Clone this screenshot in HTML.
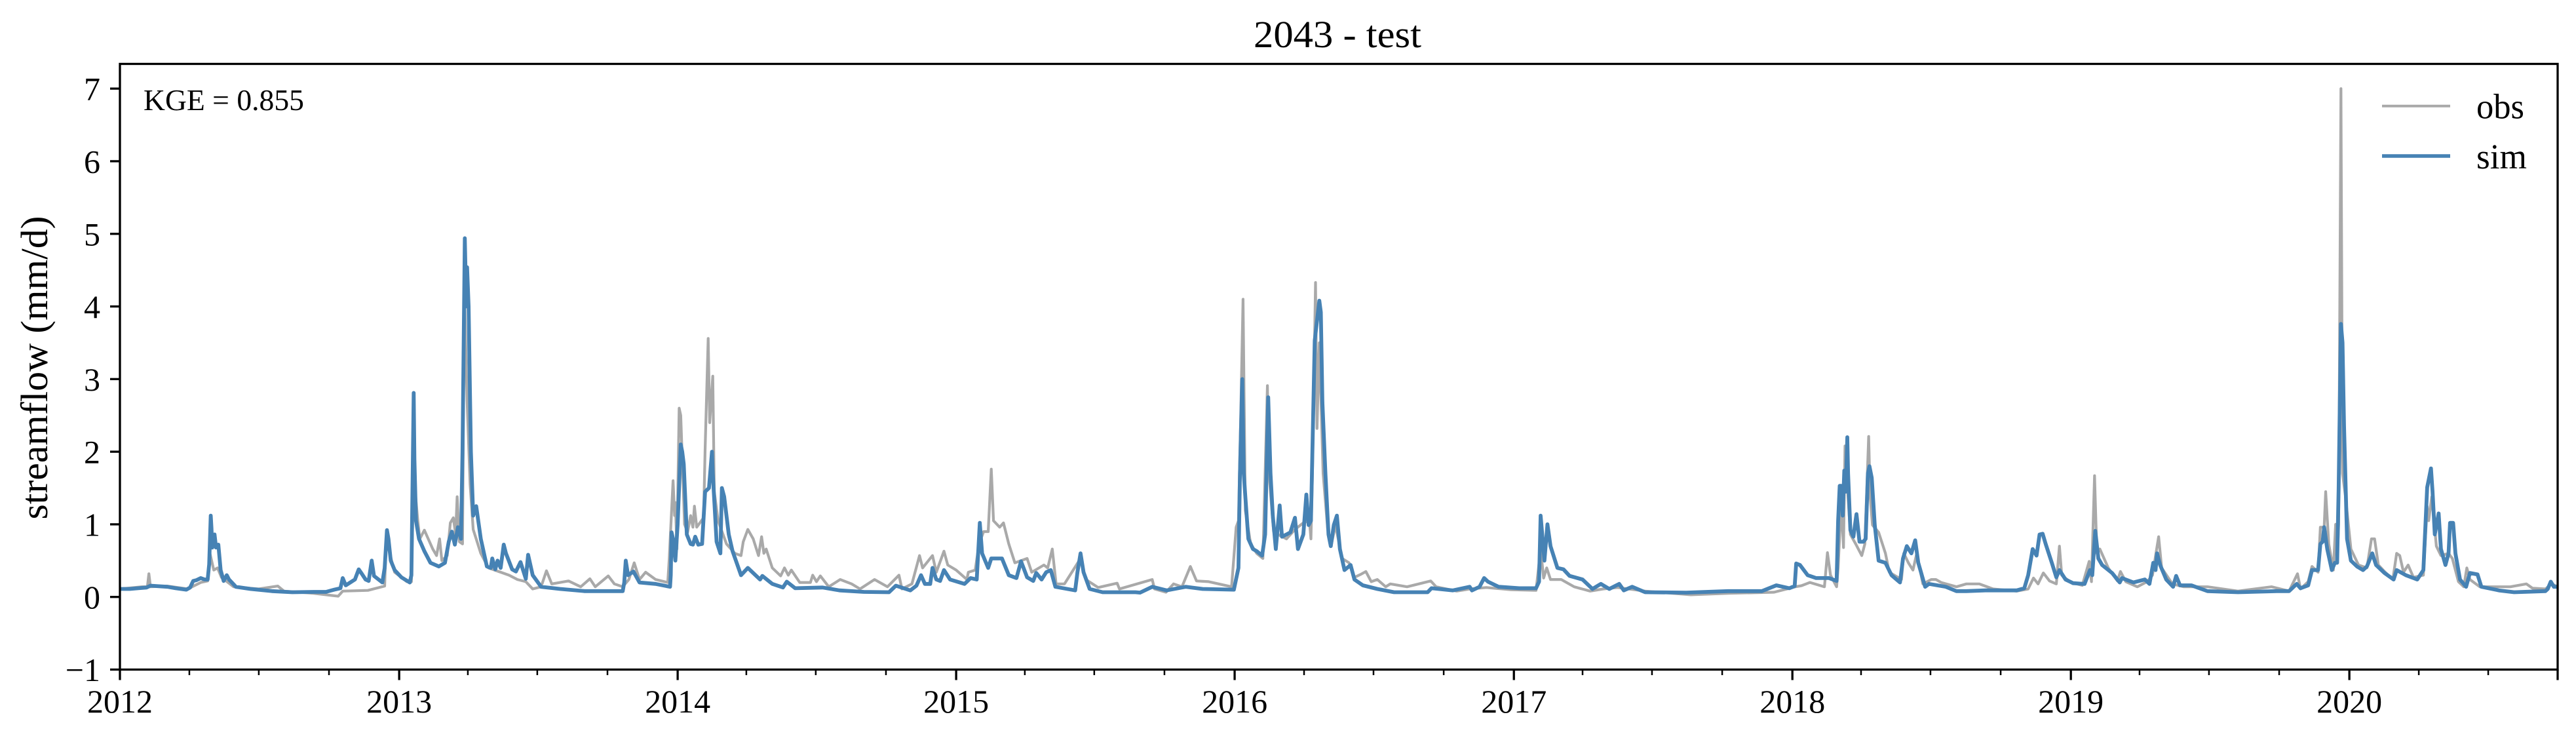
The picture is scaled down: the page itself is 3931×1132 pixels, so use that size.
<!DOCTYPE html>
<html lang="en">
<head>
<meta charset="utf-8">
<title>2043 - test</title>
<style>
html,body{margin:0;padding:0;background:#fff;width:3931px;height:1132px;overflow:hidden}
svg{display:block}
text{font-family:"Liberation Serif","DejaVu Serif",serif;fill:#000}
</style>
</head>
<body>
<svg id="chart" xmlns="http://www.w3.org/2000/svg" width="3931" height="1132" viewBox="0 0 3931 1132">
  <rect x="0" y="0" width="3931" height="1132" fill="#ffffff"/>
  <defs><clipPath id="plot-clip"><rect x="183" y="97.5" width="3720" height="924"/></clipPath></defs>
  <g id="series" clip-path="url(#plot-clip)"></g>
  <g id="ticks"></g>
  <rect x="183" y="97.5" width="3720" height="924" fill="none" stroke="#000" stroke-width="3.3"/>
  <text x="2041" y="72" font-size="58" text-anchor="middle" textLength="256" lengthAdjust="spacingAndGlyphs">2043 - test</text>
  <text transform="translate(72 561) rotate(-90)" font-size="58" text-anchor="middle" textLength="463" lengthAdjust="spacingAndGlyphs">streamflow (mm/d)</text>
  <text x="219" y="168" font-size="46" textLength="245" lengthAdjust="spacingAndGlyphs">KGE = 0.855</text>
  <g>
    <line x1="3635" x2="3739" y1="161.7" y2="161.7" stroke="#a9a9a9" stroke-width="4"/>
    <text x="3779" y="180.5" font-size="54" textLength="73" lengthAdjust="spacingAndGlyphs">obs</text>
    <line x1="3635" x2="3739" y1="238" y2="238" stroke="#4682b4" stroke-width="5.6"/>
    <text x="3779" y="257" font-size="54" textLength="77" lengthAdjust="spacingAndGlyphs">sim</text>
  </g>
</svg>
<script>
const yTickValues = [-1, 0, 1, 2, 3, 4, 5, 6, 7];
const yearLabels = [2012, 2013, 2014, 2015, 2016, 2017, 2018, 2019, 2020];
const minorMonths = [3, 6, 9];
const domainStartDay = 0;
const domainEndDay = 3195;
const domainMinValue = -1;
const domainMaxValue = 7.34;

const obsDays = [
0,29,36,38,40,62,89,106,115,118,
123,128,133,149,182,207,215,254,286,292,
325,347,349,352,360,376,382,385,390,393,
399,410,415,419,422,429,433,437,440,442,
445,449,451,452,455,459,463,473,483,510,
521,532,541,552,559,566,588,604,616,623,
640,648,659,667,674,681,689,702,718,720,
725,727,728,730,733,735,740,744,748,751,
753,756,765,767,771,773,777,779,784,795,
806,814,817,823,830,837,841,844,847,855,
866,871,876,880,891,905,908,913,918,929,
944,959,970,989,1006,1021,1025,1038,1048,1052,
1065,1070,1080,1085,1096,1110,1112,1121,1126,1132,
1138,1142,1145,1153,1158,1165,1173,1181,1189,1195,
1211,1216,1222,1227,1238,1259,1266,1282,1307,1310,
1353,1356,1371,1381,1392,1403,1411,1427,1457,1463,
1466,1469,1472,1475,1482,1490,1498,1504,1506,1512,
1518,1529,1540,1551,1559,1561,1563,1567,1569,1572,
1577,1583,1588,1593,1602,1611,1618,1626,1633,1640,
1648,1659,1665,1687,1718,1725,1752,1769,1791,1823,
1856,1862,1866,1870,1875,1889,1906,1927,1944,1963,
1999,2059,2108,2168,2196,2204,2215,2234,2238,2242,
2250,2252,2256,2259,2261,2263,2268,2275,2283,2287,
2292,2294,2297,2305,2314,2319,2335,2338,2344,2350,
2355,2363,2374,2380,2387,2407,2420,2437,2455,2486,
2501,2508,2514,2521,2529,2538,2542,2545,2557,2572,
2581,2584,2588,2591,2595,2606,2618,2622,2629,2644,
2657,2664,2672,2676,2690,2705,2736,2776,2820,2843,
2854,2858,2868,2873,2881,2884,2889,2891,2895,2901,
2904,2906,2908,2911,2913,2917,2924,2934,2945,2951,
2955,2960,2968,2979,2984,2988,2993,2999,3006,3019,
3024,3026,3030,3036,3042,3052,3057,3065,3072,3076,
3080,3093,3133,3154,3162,3179,3187,3195
];
const obsValues = [
.11,.14,.14,.32,.14,.15,.11,.2,.22,.6,
.37,.4,.27,.14,.11,.15,.08,.05,.01,.08,
.09,.15,.8,.67,.34,.21,.21,1.7,1.09,.8,
.92,.66,.57,.8,.5,.57,1.02,1.09,.86,1.38,
.76,.73,3.73,4,2.7,1.55,.93,.6,.4,.3,
.24,.21,.11,.14,.36,.18,.22,.14,.25,.14,
.29,.18,.14,.24,.47,.24,.34,.24,.2,.53,
1.6,1.12,1.3,.66,2.6,2.5,1,.89,1.12,.96,
1.25,.96,1.09,2.03,3.56,2.4,3.04,1.45,1.05,.73,
.6,.57,.76,.93,.8,.57,.83,.6,.66,.4,
.29,.4,.3,.37,.2,.2,.3,.21,.29,.14,
.24,.18,.11,.24,.14,.3,.11,.18,.57,.4,
.57,.34,.63,.44,.37,.24,.34,.37,.73,.9,
.9,1.76,1.05,.96,1.02,.73,.47,.5,.53,.34,
.44,.4,.66,.18,.18,.53,.24,.13,.19,.11,
.24,.11,.065,.18,.14,.42,.22,.21,.14,.96,
1.05,2.5,4.1,1.19,.73,.6,.53,2.91,1.7,.9,
.86,.8,.93,1.02,1.05,.8,1.7,4.33,2.32,3.5,
1.7,.93,.73,.99,.53,.47,.27,.31,.35,.21,
.24,.14,.18,.14,.22,.14,.08,.11,.13,.1,
.09,.66,.26,.4,.24,.24,.14,.08,.11,.13,
.08,.03,.05,.065,.14,.155,.2,.14,.61,.3,
.14,.4,1.3,.68,2.08,1.7,.86,.73,.57,.73,
2.21,1.38,.99,.89,.6,.34,.24,.6,.47,.37,
.6,.18,.24,.24,.2,.14,.18,.18,.11,.08,
.11,.26,.18,.33,.22,.18,.7,.3,.2,.16,
.49,.21,1.67,.6,.66,.4,.22,.35,.21,.14,
.21,.3,.83,.4,.18,.14,.14,.08,.14,.08,
.32,.11,.21,.42,.34,.96,.96,1.45,.73,.37,
1,.47,1,7,1.7,1.38,.66,.44,.4,.8,
.8,.44,.35,.24,.6,.57,.34,.44,.27,.3,
1.25,1.05,1.38,.7,.57,.6,.53,.21,.14,.4,
.24,.14,.14,.18,.12,.11,.18,.14
];
const simDays = [
0,13,24,35,40,48,62,73,87,92,
96,100,106,111,115,117,119,120,121,124,
126,129,132,136,140,143,152,171,199,226,
254,270,281,289,292,296,308,313,317,322,
326,330,333,344,347,350,352,355,360,369,
380,382,385,386,388,392,399,407,418,426,
431,435,439,443,447,449,452,454,455,457,
460,463,467,473,481,486,488,492,495,499,
503,506,514,519,525,532,535,541,552,577,
609,659,661,663,666,673,681,702,721,722,
723,725,728,731,735,737,739,743,748,751,
754,758,763,767,772,776,777,782,787,789,
792,798,803,814,823,833,839,842,855,869,
874,885,921,943,975,1008,1017,1036,1044,1050,
1055,1062,1065,1070,1075,1080,1088,1107,1115,1123,
1127,1130,1134,1138,1142,1156,1165,1175,1181,1189,
1197,1201,1208,1214,1220,1226,1252,1255,1259,1263,
1271,1288,1331,1337,1353,1372,1397,1419,1460,1466,
1468,1471,1473,1475,1479,1485,1490,1497,1501,1505,
1508,1511,1515,1520,1523,1529,1534,1540,1544,1551,
1555,1558,1561,1566,1572,1574,1576,1580,1584,1587,
1591,1595,1599,1605,1613,1618,1629,1648,1670,1714,
1719,1747,1769,1772,1782,1788,1793,1807,1834,1856,
1860,1862,1867,1871,1875,1884,1892,1900,1917,1930,
1941,1952,1965,1971,1982,1999,2053,2108,2152,2171,
2188,2195,2197,2202,2212,2223,2240,2250,2252,2254,
2256,2258,2260,2262,2264,2265,2268,2272,2276,2280,
2285,2288,2291,2293,2296,2300,2305,2314,2322,2333,
2337,2342,2348,2353,2357,2366,2371,2393,2407,2420,
2445,2486,2496,2501,2507,2512,2516,2520,2524,2532,
2538,2542,2550,2560,2575,2582,2585,2589,2593,2598,
2611,2621,2624,2639,2654,2660,2665,2668,2670,2674,
2682,2691,2695,2700,2715,2736,2776,2827,2843,2853,
2858,2868,2873,2881,2884,2887,2889,2893,2899,2903,
2906,2908,2911,2913,2915,2919,2924,2932,2940,2945,
2952,2957,2968,2980,2984,2996,3011,3019,3024,3029,
3031,3034,3039,3042,3048,3052,3054,3058,3061,3067,
3075,3080,3090,3095,3118,3138,3179,3182,3186,3190,
3195
];
const simValues = [
.11,.11,.12,.13,.155,.15,.14,.12,.10,.13,
.22,.23,.26,.24,.24,.45,1.12,.95,.68,.86,
.68,.72,.37,.22,.3,.24,.14,.11,.08,.065,
.07,.07,.1,.12,.26,.16,.24,.38,.32,.24,
.22,.5,.29,.2,.4,.92,.8,.5,.37,.27,
.2,.3,2.81,1.9,1.05,.8,.63,.47,.42,.47,
.76,.9,.72,.96,.8,2,4.94,4,4.54,4,
2,1.12,1.25,.8,.42,.4,.53,.38,.5,.4,
.72,.6,.38,.35,.48,.25,.58,.3,.14,.11,
.08,.08,.2,.5,.3,.35,.2,.18,.14,.3,
.89,.8,.5,1,2.1,2,1.83,.86,.73,.72,
.83,.72,.73,1.45,1.5,2,1.7,.76,.6,1.5,
1.38,.86,.63,.3,.4,.3,.24,.29,.18,.13,
.21,.12,.13,.09,.07,.065,.155,.09,.155,.3,
.18,.18,.4,.24,.22,.37,.24,.18,.26,.24,
1.02,.6,.5,.4,.53,.53,.3,.26,.49,.27,
.22,.33,.24,.34,.37,.14,.09,.34,.6,.34,
.11,.065,.065,.06,.14,.09,.14,.11,.1,.4,
1.7,3,1.7,1.38,.8,.66,.63,.57,.86,2.75,
1.7,1.12,.66,1.26,.83,.86,.89,1.09,.66,.86,
1.41,.99,1.05,3.53,4.08,3.92,2.68,1.7,.86,.7,
.99,1.12,.66,.37,.44,.24,.16,.11,.065,.065,
.12,.09,.14,.09,.14,.26,.21,.14,.12,.12,
.21,1.12,.5,1,.7,.4,.38,.29,.24,.11,
.18,.11,.18,.09,.14,.065,.06,.08,.08,.16,
.12,.15,.46,.44,.3,.26,.26,.22,1.05,1.53,
1.53,1.12,1.74,1.45,2.2,1.7,.92,.83,1.14,.76,
.76,.8,1.7,1.8,1.64,.99,.5,.47,.3,.2,
.53,.7,.6,.78,.47,.14,.18,.14,.08,.08,
.09,.09,.12,.3,.66,.57,.86,.87,.73,.47,
.27,.37,.24,.19,.18,.37,.3,.91,.53,.44,
.33,.2,.26,.2,.24,.18,.47,.37,.6,.44,
.24,.14,.29,.16,.16,.08,.065,.08,.08,.18,
.12,.16,.37,.37,.73,.76,.96,.66,.37,.47,
.47,1.5,3.76,3.5,2.36,.8,.5,.42,.37,.42,
.6,.44,.33,.24,.37,.3,.24,.37,1.51,1.77,
1.45,.86,1.15,.66,.44,.6,1.02,1.02,.6,.24,
.14,.33,.31,.14,.09,.065,.08,.11,.21,.14,
.14
];

const NS = 'http://www.w3.org/2000/svg';
const plotLeft = 183, plotRight = 3903, plotTop = 97.5, plotBottom = 1021.5;

function xScale(day) {
  return plotLeft + (day - domainStartDay) * (plotRight - plotLeft) / (domainEndDay - domainStartDay);
}
function yScale(value) {
  return plotBottom - (value - domainMinValue) * (plotBottom - plotTop) / (domainMaxValue - domainMinValue);
}
function dayOf(year, month) {
  return (Date.UTC(year, month, 1) - Date.UTC(yearLabels[0], 0, 1)) / 86400000;
}
function linePath(days, values) {
  return days.map(function (d, i) {
    return (i ? 'L' : 'M') + xScale(d).toFixed(1) + ' ' + yScale(values[i]).toFixed(1);
  }).join('');
}

const seriesGroup = document.getElementById('series');
const ticksGroup = document.getElementById('ticks');

const obsLine = document.createElementNS(NS, 'path');


obsLine.setAttribute('d', linePath(obsDays, obsValues));
obsLine.setAttribute('fill', 'none');
obsLine.setAttribute('stroke', '#a9a9a9');
obsLine.setAttribute('stroke-width', '4.2');
obsLine.setAttribute('stroke-linejoin', 'round');
seriesGroup.appendChild(obsLine);

const simLine = document.createElementNS(NS, 'path');


simLine.setAttribute('d', linePath(simDays, simValues));
simLine.setAttribute('fill', 'none');
simLine.setAttribute('stroke', '#4682b4');
simLine.setAttribute('stroke-width', '5.8');
simLine.setAttribute('stroke-linejoin', 'round');
seriesGroup.appendChild(simLine);

function addTick(x1, y1, x2, y2, width) {
  const t = document.createElementNS(NS, 'line');
  
  
  t.setAttribute('x1', x1);
  t.setAttribute('y1', y1);
  t.setAttribute('x2', x2);
  t.setAttribute('y2', y2);
  t.setAttribute('stroke', '#000');
  t.setAttribute('stroke-width', width);
  ticksGroup.appendChild(t);
}
function addLabel(x, y, anchor, content) {
  const t = document.createElementNS(NS, 'text');
  
  
  t.setAttribute('x', x);
  t.setAttribute('y', y);
  t.setAttribute('font-size', '50');
  t.setAttribute('text-anchor', anchor);
  t.textContent = content;
  ticksGroup.appendChild(t);
}

yTickValues.forEach(function (v) {
  const y = yScale(v);
  addTick(plotLeft - 15, y, plotLeft, y, 3.3);
  addLabel(153, y + 17.5, 'end', v < 0 ? '\u2212' + Math.abs(v) : String(v));
});

yearLabels.forEach(function (year) {
  const x = xScale(dayOf(year, 0));
  addTick(x, plotBottom, x, plotBottom + 16, 3.3);
  addLabel(x, 1087, 'middle', String(year));
  minorMonths.forEach(function (month) {
    const day = dayOf(year, month);
    if (day <= domainEndDay) {
      addTick(xScale(day), plotBottom, xScale(day), plotBottom + 8.5, 2.5);
    }
  });
});
addTick(plotRight, plotBottom, plotRight, plotBottom + 16, 3.3);
</script>
</body>
</html>
